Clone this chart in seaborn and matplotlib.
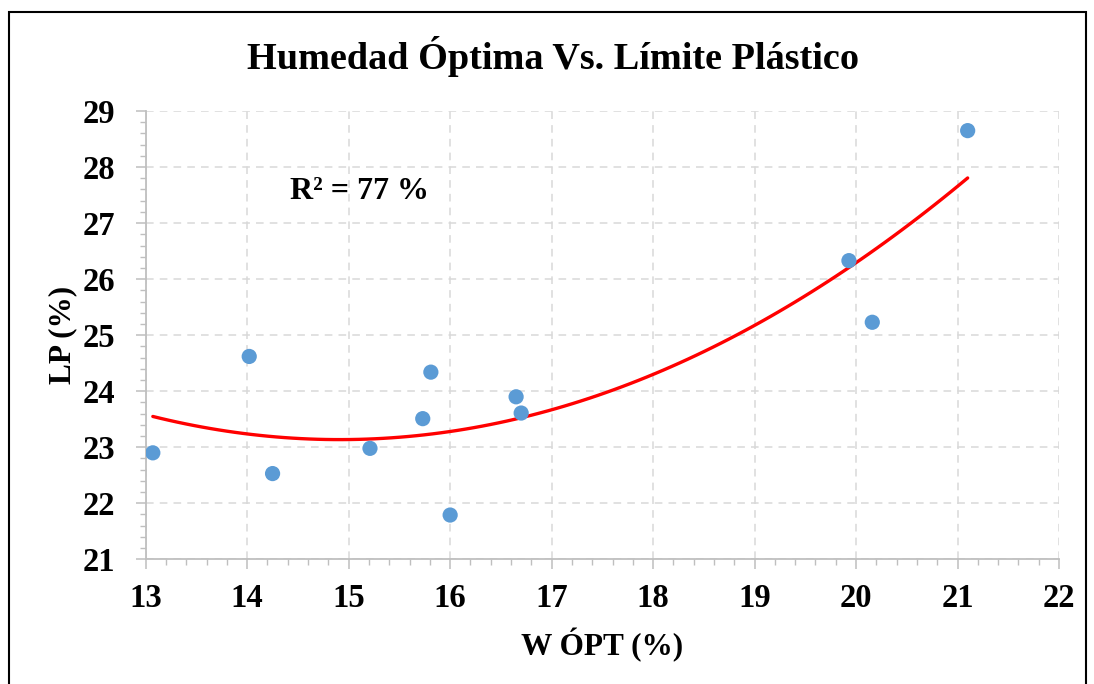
import numpy as np
import pandas as pd
import matplotlib
matplotlib.use("Agg")
import matplotlib.pyplot as plt
from matplotlib.ticker import MultipleLocator
from matplotlib.patches import Rectangle
import seaborn as sns

w_opt = [13.07, 14.02, 14.25, 15.21, 15.73, 15.81, 16.00, 16.65, 16.70, 19.93, 20.16, 21.10]
lp = [22.90, 24.62, 22.53, 22.98, 23.51, 24.34, 21.79, 23.90, 23.61, 26.33, 25.23, 28.65]
title = "Humedad Óptima Vs. Límite Plástico"
xlabel = "W ÓPT (%)"
ylabel = "LP (%)"
r2_text = "R² = 77 %"

df = pd.DataFrame({"x": w_opt, "y": lp})

sns.set_style("white")
plt.rcParams['font.family'] = ['Liberation Serif', 'DejaVu Serif']
plt.rcParams['text.color'] = 'black'
plt.rcParams['axes.labelcolor'] = 'black'
plt.rcParams['xtick.labelcolor'] = 'black'
plt.rcParams['ytick.labelcolor'] = 'black'

fig = plt.figure(figsize=(10.94, 6.84), dpi=100)
ax = fig.add_axes([0.1332, 0.1823, 0.968 - 0.1332, 0.8377 - 0.1823])

sns.regplot(data=df, x="x", y="y", order=2, ci=None, scatter=False, ax=ax,
            line_kws=dict(color="#FF0000", lw=2.4, zorder=3))
sns.scatterplot(data=df, x="x", y="y", ax=ax, color="#5B9BD5", s=120,
                edgecolor="none", zorder=4)

ax.set_xlim(13, 22)
ax.set_ylim(21, 29)
ax.xaxis.set_major_locator(MultipleLocator(1))
ax.yaxis.set_major_locator(MultipleLocator(1))
ax.xaxis.set_minor_locator(MultipleLocator(0.2))
ax.yaxis.set_minor_locator(MultipleLocator(0.2))
ax.grid(True, which="major", color="#d9d9d9", linestyle=(0, (5, 4)), lw=1.1)
ax.set_axisbelow(True)
for s in ["top", "right"]:
    ax.spines[s].set_visible(False)
for s in ["left", "bottom"]:
    ax.spines[s].set_color("#bfbfbf")
    ax.spines[s].set_linewidth(1.3)
ax.tick_params(which="major", direction="out", length=7, width=1.1, color="#bfbfbf",
               labelsize=23.5, labelcolor="black")
ax.tick_params(axis="x", which="major", pad=10)
ax.tick_params(axis="y", which="major", pad=15)
ax.tick_params(which="minor", direction="out", length=4, width=1.0, color="#bfbfbf")
ax.tick_params(axis="x", which="both", bottom=True)
ax.tick_params(axis="y", which="both", left=True)
for lab in ax.get_xticklabels() + ax.get_yticklabels():
    lab.set_fontweight("bold")

ax.set_xlabel(xlabel, fontsize=22.5, fontweight="bold", labelpad=10, color="black")
ax.set_ylabel(ylabel, fontsize=22.5, fontweight="bold", labelpad=4, color="black")
fig.text(0.5055, 0.918, title, ha="center", va="center", fontsize=27.5,
         fontweight="bold", color="black")
ax.text(14.42, 27.56, r2_text, ha="left", va="center", fontsize=23,
        fontweight="bold", color="black")

fig.patches.append(Rectangle((9 / 1094, -0.05), (1086 - 9) / 1094, 1 - 12 / 684 + 0.05,
                             transform=fig.transFigure, fill=False, edgecolor="black",
                             lw=1.5))

fig.savefig("out.png", dpi=100)
